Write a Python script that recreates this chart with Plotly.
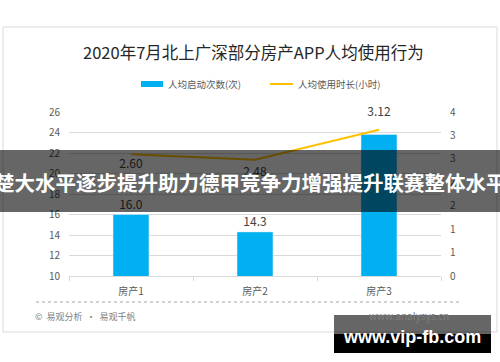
import plotly.graph_objects as go

categories = ["房产1", "房产2", "房产3"]
launch_counts = [16.0, 14.3, 23.8]
launch_labels = ["16.0", "14.3", ""]
usage_hours = [2.60, 2.48, 3.12]
usage_labels = ["2.60", "2.48", "3.12"]
left_ticks = [10, 12, 14, 16, 18, 20, 22, 24, 26]
right_tickvals = [0, 0.5, 1.0, 1.5, 2.0, 2.5, 3.0, 3.5]
right_ticktext = ["0", "1", "1", "2", "2", "3", "3", "4"]

title = "2020年7月北上广深部分房产APP人均使用行为"
legend_bar = "人均启动次数(次)"
legend_line = "人均使用时长(小时)"
banner = "楚大水平逐步提升助力德甲竞争力增强提升联赛整体水平"
footer_left = "©  易观分析  ·  易观千帆"
footer_right = "www.analysys.cn"
box_text = "www.vip-fb.com"

W, H = 500, 362
L, R, T, B = 69, 441, 112, 276
FONT = "Noto Sans CJK SC, Microsoft YaHei, sans-serif"
BLUE = "#00B0F0"
GOLD = "#FFC000"
GRAY = "#595959"


def X(px):
    return (px - L) / (R - L)


def Y(py):
    return (B - py) / (B - T)


fig = go.Figure()
fig.add_trace(go.Bar(
    x=categories, y=launch_counts, name=legend_bar, marker_color=BLUE,
    text=launch_labels, textposition="outside", cliponaxis=False,
    textfont=dict(size=12, color="#404040", family=FONT), width=0.29,
))
fig.add_trace(go.Scatter(
    x=categories, y=usage_hours, name=legend_line, yaxis="y2",
    mode="lines+markers+text", line=dict(color=GOLD, width=2),
    marker=dict(size=[6, 10, 16], color="rgba(0,0,0,0)", line=dict(width=0)),
    text=usage_labels, textposition=["bottom center", "bottom center", "top center"],
    textfont=dict(size=12, color="#404040", family=FONT), cliponaxis=False,
))

shapes = [
    dict(type="rect", xref="paper", yref="paper", x0=X(3), x1=X(497), y0=Y(332), y1=Y(27),
         line=dict(color="#d9d9d9", width=1), fillcolor="rgba(0,0,0,0)", layer="below"),
    dict(type="rect", xref="paper", yref="paper", x0=X(141), x1=X(163), y0=Y(87), y1=Y(81),
         line=dict(width=0), fillcolor=BLUE),
    dict(type="line", xref="paper", yref="paper", x0=X(270), x1=X(293), y0=Y(84), y1=Y(84),
         line=dict(color=GOLD, width=2)),
    dict(type="line", xref="paper", yref="paper", x0=X(36), x1=X(459), y0=Y(302), y1=Y(302),
         line=dict(color="#a6a6a6", width=1, dash="dot")),
    dict(type="rect", xref="paper", yref="paper", x0=X(0), x1=X(500), y0=Y(212), y1=Y(150),
         line=dict(width=0), fillcolor="rgba(0,0,0,0.6)", layer="above"),
    dict(type="rect", xref="paper", yref="paper", x0=X(334), x1=X(491), y0=Y(334), y1=Y(315),
         line=dict(width=0), fillcolor="rgba(0,0,0,0.6)", layer="above"),
    dict(type="rect", xref="paper", yref="paper", x0=X(334), x1=X(491), y0=Y(353), y1=Y(334),
         line=dict(width=0), fillcolor="#000000", layer="above"),
]

annotations = [
    dict(text=title, x=X(253), y=Y(52), xref="paper", yref="paper", showarrow=False,
         font=dict(size=16.5, color="#262626", family=FONT), xanchor="center", yanchor="middle"),
    dict(text=legend_bar, x=X(166), y=Y(84), xref="paper", yref="paper", showarrow=False,
         font=dict(size=9.5, color=GRAY, family=FONT), xanchor="left", yanchor="middle"),
    dict(text=legend_line, x=X(296), y=Y(84), xref="paper", yref="paper", showarrow=False,
         font=dict(size=9.5, color=GRAY, family=FONT), xanchor="left", yanchor="middle"),
    dict(text=footer_left, x=X(33), y=Y(316), xref="paper", yref="paper", showarrow=False,
         font=dict(size=9, color="#7f7f7f", family=FONT), xanchor="left", yanchor="middle"),
    dict(text=footer_right, x=X(451), y=Y(315), xref="paper", yref="paper", showarrow=False,
         font=dict(size=10, color="#7f7f7f", family=FONT), xanchor="right", yanchor="middle"),
    dict(text="<b>" + banner + "</b>", x=X(250), y=Y(182), xref="paper", yref="paper",
         showarrow=False, font=dict(size=20.5, color="white", family=FONT),
         xanchor="center", yanchor="middle"),
    dict(text="<b>" + box_text + "</b>", x=X(412), y=Y(337), xref="paper", yref="paper",
         showarrow=False, font=dict(size=18, color="white", family="Liberation Sans, Arial, sans-serif"),
         xanchor="center", yanchor="middle"),
]

fig.update_layout(
    width=W, height=H,
    margin=dict(l=L, r=W - R, t=T, b=H - B, pad=0),
    paper_bgcolor="white", plot_bgcolor="white",
    showlegend=False,
    font=dict(family=FONT, color=GRAY),
    xaxis=dict(
        type="category", showgrid=False, showline=True, linecolor="#d9d9d9", linewidth=1,
        ticks="outside", tickson="boundaries", ticklen=4, tickcolor="#d9d9d9",
        tickfont=dict(size=10, color=GRAY, family=FONT), ticklabelstandoff=6,
        range=[-0.5, 2.5], zeroline=False,
    ),
    yaxis=dict(
        range=[10, 26], tickvals=left_ticks, showgrid=True, gridcolor="#d9d9d9", gridwidth=1,
        zeroline=False, showline=False, ticks="", tickfont=dict(size=10, color=GRAY, family=FONT),
        ticklabelstandoff=8,
    ),
    yaxis2=dict(
        range=[0, 3.5], overlaying="y", side="right", tickvals=right_tickvals,
        ticktext=right_ticktext, showgrid=False, zeroline=False, showline=False, ticks="",
        tickfont=dict(size=10, color=GRAY, family=FONT), ticklabelstandoff=8,
    ),
    shapes=shapes,
    annotations=annotations,
)

fig.write_html(
    "out.html",
    config={"displayModeBar": False},
    post_script="document.body.style.margin='0';document.body.style.overflow='hidden';",
)
